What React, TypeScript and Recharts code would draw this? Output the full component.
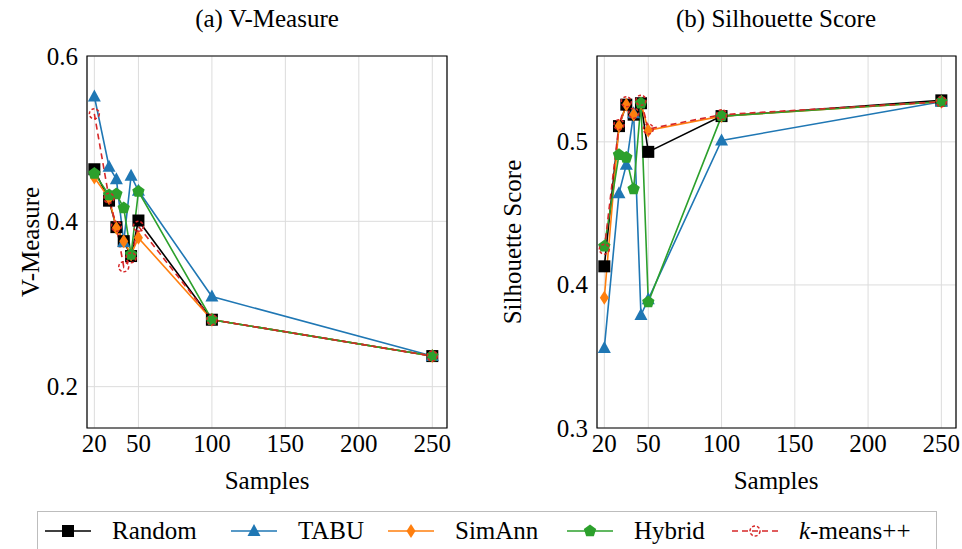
import React from "react";
import { LineChart, Line, XAxis, YAxis, CartesianGrid, ReferenceArea } from "recharts";

const samples = [20, 30, 35, 40, 45, 50, 100, 250];
const xTicks = [20, 50, 100, 150, 200, 250];

// (a) V-Measure
const vmRandom = [0.463, 0.425, 0.393, 0.376, 0.358, 0.401, 0.281, 0.237];
const vmTabu = [0.551, 0.466, 0.451, 0.375, 0.455, 0.437, 0.309, 0.237];
const vmSimAnn = [0.453, 0.428, 0.392, 0.376, 0.36, 0.38, 0.281, 0.237];
const vmHybrid = [0.458, 0.432, 0.433, 0.416, 0.36, 0.436, 0.281, 0.237];
const vmKmeans = [0.53, 0.428, 0.394, 0.345, 0.356, 0.394, 0.281, 0.237];
const vmTicks = [0.2, 0.4, 0.6];

// (b) Silhouette Score
const ssRandom = [0.413, 0.511, 0.526, 0.519, 0.527, 0.493, 0.518, 0.529];
const ssTabu = [0.356, 0.464, 0.484, 0.52, 0.379, 0.39, 0.501, 0.528];
const ssSimAnn = [0.391, 0.511, 0.526, 0.519, 0.527, 0.508, 0.518, 0.528];
const ssHybrid = [0.427, 0.491, 0.489, 0.467, 0.527, 0.388, 0.518, 0.528];
const ssKmeans = [0.425, 0.512, 0.528, 0.52, 0.529, 0.509, 0.519, 0.528];
const ssTicks = [0.3, 0.4, 0.5];

const FONT = "'Liberation Serif', serif";
const FS = 25;
const BLUE = "#1f77b4";
const ORANGE = "#ff7f0e";
const GREEN = "#2ca02c";
const RED = "#d62728";

const square = (p: any) => (
  <rect key={p.index} x={p.cx - 6} y={p.cy - 6} width={12} height={12} fill="#000" />
);
const triangle = (p: any) => (
  <polygon
    key={p.index}
    points={`${p.cx},${p.cy - 7} ${p.cx - 6.5},${p.cy + 5} ${p.cx + 6.5},${p.cy + 5}`}
    fill={BLUE}
  />
);
const diamond = (p: any) => (
  <polygon
    key={p.index}
    points={`${p.cx},${p.cy - 7} ${p.cx + 4.5},${p.cy} ${p.cx},${p.cy + 7} ${p.cx - 4.5},${p.cy}`}
    fill={ORANGE}
  />
);
const pentagon = (p: any) => {
  const pts = [0, 1, 2, 3, 4]
    .map((k) => {
      const a = ((-90 + k * 72) * Math.PI) / 180;
      return `${p.cx + 6.5 * Math.cos(a)},${p.cy + 6.5 * Math.sin(a)}`;
    })
    .join(" ");
  return <polygon key={p.index} points={pts} fill={GREEN} />;
};
const ring = (p: any) => (
  <circle key={p.index} cx={p.cx} cy={p.cy} r={5} fill="none" stroke={RED} strokeWidth={1.5} strokeDasharray="3 2" />
);

// legend slot width = distance to the next legend sample
const series = [
  { key: "random", name: "Random", color: "#000", dot: square, dash: undefined, slot: 186 },
  { key: "tabu", name: "TABU", color: BLUE, dot: triangle, dash: undefined, slot: 157 },
  { key: "simann", name: "SimAnn", color: ORANGE, dot: diamond, dash: undefined, slot: 179 },
  { key: "hybrid", name: "Hybrid", color: GREEN, dot: pentagon, dash: undefined, slot: 165 },
  { key: "kmeans", name: "k-means++", color: RED, dot: ring, dash: "6 4", slot: 200 },
];

function buildRows(r: number[], t: number[], s: number[], h: number[], k: number[]) {
  return samples.map((x, i) => ({ x, random: r[i], tabu: t[i], simann: s[i], hybrid: h[i], kmeans: k[i] }));
}

const vmData = buildRows(vmRandom, vmTabu, vmSimAnn, vmHybrid, vmKmeans);
const ssData = buildRows(ssRandom, ssTabu, ssSimAnn, ssHybrid, ssKmeans);

const XTick = (p: any) => (
  <text x={p.x} y={p.y} dy="0.75em" textAnchor="middle" fontFamily={FONT} fontSize={FS} fill="#000">
    {p.payload.value}
  </text>
);
const YTick = (p: any) => (
  <text x={p.x} y={p.y} dy="0.34em" textAnchor="end" fontFamily={FONT} fontSize={FS} fill="#000">
    {Number(p.payload.value).toFixed(1)}
  </text>
);

function Panel({ data, yDomain, yTicks, width, yAxisWidth, marginRight }: any) {
  return (
    <LineChart width={width} height={500} data={data} margin={{ top: 56, right: marginRight, left: 0, bottom: 0 }}>
      <CartesianGrid stroke="#dcdcdc" strokeWidth={1} />
      <XAxis
        type="number"
        dataKey="x"
        domain={[15, 260]}
        ticks={xTicks}
        allowDataOverflow
        height={72}
        tick={XTick}
        tickLine={false}
        tickSize={0}
        tickMargin={5}
        axisLine={false}
      />
      <YAxis
        type="number"
        domain={yDomain}
        ticks={yTicks}
        allowDataOverflow
        width={yAxisWidth}
        tick={YTick}
        tickLine={false}
        tickSize={0}
        tickMargin={9}
        axisLine={false}
      />
      <ReferenceArea x1={15} x2={260} y1={yDomain[0]} y2={yDomain[1]} fill="none" stroke="#000" strokeWidth={1.2} />
      {series.map((s) => (
        <Line
          key={s.key}
          type="linear"
          dataKey={s.key}
          stroke={s.color}
          strokeWidth={1.6}
          strokeDasharray={s.dash}
          dot={s.dot}
          activeDot={false}
          isAnimationActive={false}
        />
      ))}
    </LineChart>
  );
}

function LegendSample({ s }: any) {
  return (
    <svg width={46} height={20} style={{ display: "block", flex: "none" }}>
      <line x1={0} y1={10} x2={46} y2={10} stroke={s.color} strokeWidth={1.6} strokeDasharray={s.dash} />
      {s.dot({ cx: 23, cy: 10, index: 0 })}
    </svg>
  );
}

const abs = (left: number, top: number, extra: any = {}) => ({
  position: "absolute" as const,
  left,
  top,
  transform: "translate(-50%, -50%)",
  whiteSpace: "nowrap" as const,
  fontSize: FS,
  lineHeight: 1,
  ...extra,
});

export default function App() {
  return (
    <div style={{ position: "absolute", left: 0, top: 0, width: 962, height: 549, background: "#fff", fontFamily: FONT, color: "#000" }}>
      <div style={{ position: "absolute", left: 0, top: 0 }}>
        <Panel data={vmData} yDomain={[0.15, 0.6]} yTicks={vmTicks} width={480} yAxisWidth={87} marginRight={33} />
      </div>
      <div style={{ position: "absolute", left: 480, top: 0 }}>
        <Panel data={ssData} yDomain={[0.3, 0.56]} yTicks={ssTicks} width={482} yAxisWidth={117} marginRight={6} />
      </div>

      <div style={abs(267, 18)}>(a) V-Measure</div>
      <div style={abs(776, 18)}>(b) Silhouette Score</div>
      <div style={abs(267, 480)}>Samples</div>
      <div style={abs(776, 480)}>Samples</div>
      <div style={abs(30, 242, { transform: "translate(-50%, -50%) rotate(-90deg)" })}>V-Measure</div>
      <div style={abs(512, 242, { transform: "translate(-50%, -50%) rotate(-90deg)" })}>Silhouette Score</div>

      <div
        style={{
          position: "absolute",
          left: 37,
          top: 511,
          width: 898,
          height: 37,
          border: "1px solid #bdbdbd",
          display: "flex",
          alignItems: "center",
          fontSize: FS,
        }}
      >
        {series.map((s, i) => (
          <div
            key={s.key}
            style={{ display: "flex", alignItems: "center", flex: "none", width: s.slot, marginLeft: i === 0 ? 7 : 0, whiteSpace: "nowrap" }}
          >
            <LegendSample s={s} />
            <span style={{ marginLeft: 21 }}>
              {s.key === "kmeans" ? (
                <>
                  <i>k</i>-means++
                </>
              ) : (
                s.name
              )}
            </span>
          </div>
        ))}
      </div>
    </div>
  );
}
